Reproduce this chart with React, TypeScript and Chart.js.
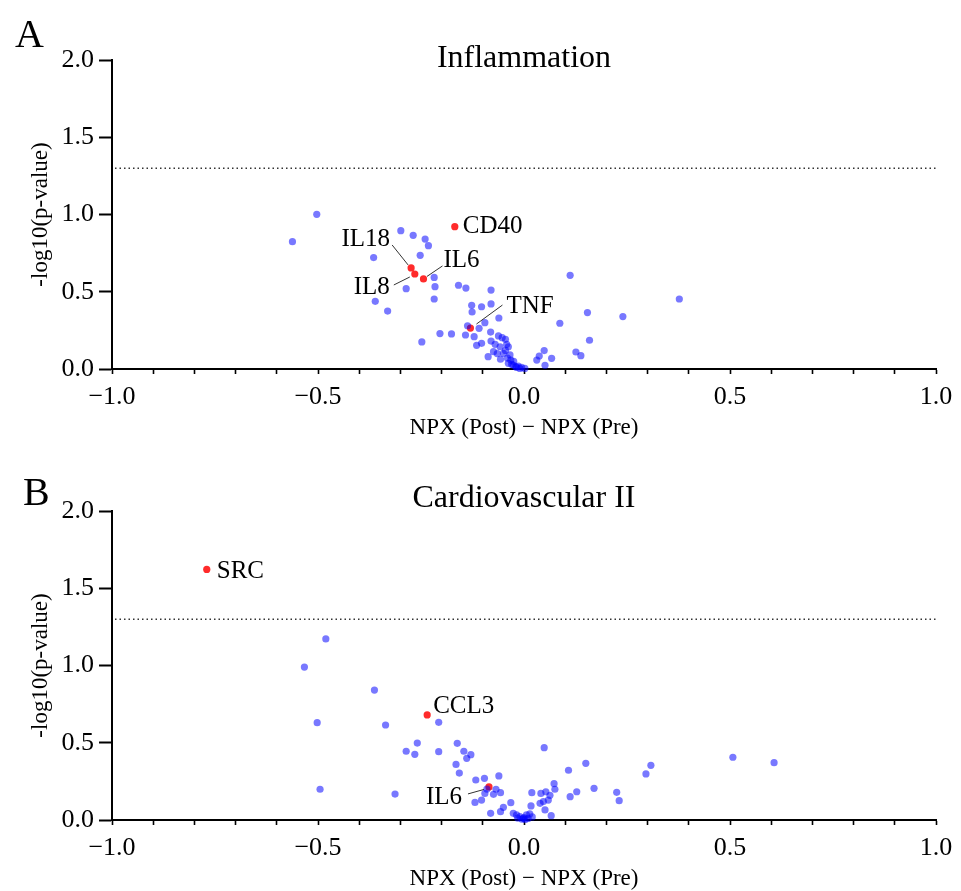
import React, { useEffect, useRef } from "react";
import { Chart, registerables } from "chart.js";

Chart.register(...registerables);

const FONT = "'Liberation Serif', 'Times New Roman', serif";
const MINUS = "\u2212";

// ---------- Panel A: Inflammation ----------
const inflBlueX = [
  -0.503, -0.562, -0.299, -0.269, -0.24, -0.232, -0.365, -0.252, -0.218, -0.216,
  -0.218, -0.286, -0.361, -0.331, -0.159, -0.141, -0.08, -0.127, -0.103, -0.08,
  -0.126, -0.061, -0.248, -0.204, -0.176, -0.142, -0.137, -0.109, -0.121, -0.115,
  -0.103, -0.081, -0.08, -0.062, -0.053, -0.045, -0.074, -0.087, -0.058, -0.038,
  -0.05, -0.034, -0.057, -0.032, -0.038, -0.026, -0.014, -0.006, 0.002, -0.018,
  0.031, 0.037, 0.049, 0.067, 0.051, 0.112, 0.087, 0.154, 0.159, 0.126,
  0.138, 0.24, 0.377, -0.095, -0.07, -0.065, -0.045, -0.025, -0.01, -0.04,
  -0.042, -0.03, -0.02,
];
const inflBlueY = [
  1.001, 0.824, 0.895, 0.865, 0.841, 0.798, 0.721, 0.736, 0.593, 0.533,
  0.453, 0.52, 0.438, 0.375, 0.542, 0.524, 0.511, 0.412, 0.403, 0.421,
  0.369, 0.33, 0.175, 0.229, 0.227, 0.22, 0.28, 0.263, 0.209, 0.153,
  0.166, 0.239, 0.181, 0.214, 0.203, 0.192, 0.112, 0.08, 0.144, 0.144,
  0.101, 0.091, 0.063, 0.058, 0.037, 0.026, 0.019, 0.011, 0.004, 0.011,
  0.058, 0.084, 0.119, 0.069, 0.024, 0.606, 0.296, 0.365, 0.186, 0.11,
  0.086, 0.339, 0.453, 0.3, 0.16, 0.1, 0.12, 0.05, 0.004, 0.07,
  0.16, 0.03, 0.015,
];
const inflHitLabels = ["CD40", "IL18", "IL8", "IL6", "TNF"];
const inflHitX = [-0.168, -0.274, -0.265, -0.244, -0.13];
const inflHitY = [0.921, 0.654, 0.615, 0.583, 0.265];

// ---------- Panel B: Cardiovascular II ----------
const cardBlueX = [
  -0.481, -0.533, -0.363, -0.502, -0.336, -0.207, -0.259, -0.286, -0.265, -0.207,
  -0.162, -0.146, -0.139, -0.129, -0.165, -0.157, -0.495, -0.313, -0.117, -0.096,
  -0.061, -0.119, -0.103, -0.095, -0.074, -0.068, -0.057, -0.081, -0.057, -0.05,
  -0.032, -0.026, -0.018, -0.01, -0.002, 0.006, 0.014, 0.019, 0.017, 0.049,
  0.041, 0.053, 0.063, 0.073, 0.075, 0.039, 0.051, 0.066, 0.047, 0.059,
  0.108, 0.112, 0.128, 0.15, 0.17, 0.225, 0.231, 0.296, 0.308, 0.507,
  0.607, -0.005, 0.003, 0.0, -0.015, 0.01, 0.02, -0.09,
];
const cardBlueY = [
  1.172, 0.99, 0.841, 0.63, 0.615, 0.632, 0.498, 0.445, 0.425, 0.442,
  0.496, 0.445, 0.399, 0.423, 0.36, 0.304, 0.199, 0.168, 0.259, 0.27,
  0.285, 0.114, 0.129, 0.172, 0.166, 0.199, 0.177, 0.043, 0.054, 0.082,
  0.112, 0.043, 0.033, 0.022, 0.011, 0.033, 0.039, 0.177, 0.091, 0.468,
  0.172, 0.183, 0.16, 0.235, 0.199, 0.108, 0.065, 0.028, 0.119, 0.129,
  0.322, 0.151, 0.183, 0.367, 0.205, 0.179, 0.125, 0.298, 0.354, 0.406,
  0.371, 0.005, 0.004, 0.015, 0.012, 0.01, 0.02, 0.2,
];
const cardHitLabels = ["SRC", "CCL3", "IL6"];
const cardHitX = [-0.77, -0.235, -0.085];
const cardHitY = [1.622, 0.68, 0.214];

const xTickValues = [-1.0, -0.5, 0.0, 0.5, 1.0];
const yTickValues = [0.0, 0.5, 1.0, 1.5, 2.0];
const THRESHOLD = 1.3;

// label placement (pixel offsets from the marked point): text anchor + optional leader line
type Ann = { align: CanvasTextAlign; dx: number; dy: number; line?: [number, number, number, number] };
const inflAnn: Ann[] = [
  { align: "left", dx: 8, dy: 0 },
  { align: "right", dx: -21, dy: -29, line: [-19, -23, -3, -3] },
  { align: "right", dx: -25, dy: 13, line: [-21, 11, -5, 3] },
  { align: "left", dx: 20, dy: -18, line: [19, -13, 3.5, -2.5] },
  { align: "left", dx: 36, dy: -22, line: [32, -23, 6, -4] },
];
const cardAnn: Ann[] = [
  { align: "left", dx: 10, dy: 2 },
  { align: "left", dx: 6, dy: -9 },
  { align: "right", dx: -27, dy: 11, line: [-21, 7, -5, 2.5] },
];

function fmt(v: number): string {
  const s = Math.abs(v).toFixed(1);
  return v < -1e-9 ? MINUS + s : s;
}

type PanelProps = {
  top: number;
  letter: string;
  letterX: number;
  letterBase: number;
  title: string;
  titleBase: number;
  bx: number[];
  by: number[];
  hl: string[];
  hx: number[];
  hy: number[];
  ann: Ann[];
};

const W = 961;
const H = 451;

function Panel(p: PanelProps) {
  const ref = useRef<HTMLCanvasElement | null>(null);
  useEffect(() => {
    const canvas = ref.current;
    if (!canvas) return;
    const overlay = {
      id: "overlay",
      beforeDatasetsDraw(chart: any) {
        const { ctx, chartArea } = chart;
        const y = chart.scales.y;
        const py = y.getPixelForValue(THRESHOLD);
        ctx.save();
        ctx.strokeStyle = "#333";
        ctx.lineWidth = 1.5;
        ctx.setLineDash([1.5, 3]);
        ctx.beginPath();
        ctx.moveTo(chartArea.left + 3, py);
        ctx.lineTo(chartArea.right, py);
        ctx.stroke();
        ctx.restore();
      },
      afterDraw(chart: any) {
        const { ctx, chartArea } = chart;
        const x = chart.scales.x;
        const y = chart.scales.y;
        ctx.save();
        ctx.fillStyle = "#000";
        // panel letter
        ctx.font = `40px ${FONT}`;
        ctx.textAlign = "left";
        ctx.textBaseline = "alphabetic";
        ctx.fillText(p.letter, p.letterX, p.letterBase);
        // title
        ctx.font = `32px ${FONT}`;
        ctx.textAlign = "center";
        ctx.fillText(p.title, (chartArea.left + chartArea.right) / 2, p.titleBase);
        // annotations
        ctx.font = `25px ${FONT}`;
        ctx.textBaseline = "middle";
        ctx.strokeStyle = "#333";
        ctx.lineWidth = 1;
        p.hl.forEach((lab, i) => {
          const a = p.ann[i];
          const px = x.getPixelForValue(p.hx[i]);
          const py = y.getPixelForValue(p.hy[i]);
          ctx.textAlign = a.align;
          ctx.fillText(lab, px + a.dx, py + a.dy);
          if (a.line) {
            ctx.beginPath();
            ctx.moveTo(px + a.line[0], py + a.line[1]);
            ctx.lineTo(px + a.line[2], py + a.line[3]);
            ctx.stroke();
          }
        });
        ctx.restore();
      },
    };

    const chart = new Chart(canvas, {
      type: "scatter",
      data: {
        datasets: [
          {
            label: "proteins",
            data: p.bx.map((v, i) => ({ x: v, y: p.by[i] })),
            backgroundColor: "rgba(0,0,255,0.53)",
            borderWidth: 0,
            pointRadius: 3.6,
            pointHoverRadius: 3.6,
            clip: false as any,
          },
          {
            label: "highlighted",
            data: p.hx.map((v, i) => ({ x: v, y: p.hy[i] })),
            backgroundColor: "rgba(255,20,20,0.9)",
            borderWidth: 0,
            pointRadius: 3.6,
            pointHoverRadius: 3.6,
            clip: false as any,
          },
        ],
      },
      options: {
        animation: false,
        responsive: false,
        maintainAspectRatio: false,
        events: [],
        layout: { padding: { top: 60, right: 25, left: 0, bottom: 0 } },
        plugins: {
          legend: { display: false },
          tooltip: { enabled: false },
          title: { display: false },
        },
        scales: {
          x: {
            type: "linear",
            min: -1,
            max: 1,
            afterFit(s: any) {
              s.height = 82;
            },
            ticks: {
              stepSize: 0.1,
              autoSkip: false,
              maxRotation: 0,
              padding: 8,
              color: "#000",
              font: { family: FONT, size: 26 },
              callback: (v: any) => {
                const n = Number(v);
                const hit = xTickValues.find((t) => Math.abs(t - n) < 1e-6);
                return hit === undefined ? "" : fmt(hit);
              },
            },
            grid: {
              drawOnChartArea: false,
              drawTicks: true,
              tickLength: 5,
              tickColor: "#000",
              tickWidth: 1.6,
            },
            border: { display: true, color: "#000", width: 2 },
            title: {
              display: true,
              text: "NPX (Post) " + MINUS + " NPX (Pre)",
              color: "#000",
              font: { family: FONT, size: 23 },
              padding: { top: 0, bottom: 9 },
            },
          },
          y: {
            type: "linear",
            min: 0,
            max: 2,
            afterFit(s: any) {
              s.width = 112;
            },
            ticks: {
              stepSize: 0.5,
              padding: 5,
              color: "#000",
              font: { family: FONT, size: 26 },
              callback: (v: any) => {
                const n = Number(v);
                const hit = yTickValues.find((t) => Math.abs(t - n) < 1e-6);
                return hit === undefined ? "" : hit.toFixed(1);
              },
            },
            grid: {
              drawOnChartArea: false,
              drawTicks: true,
              tickLength: 13,
              tickColor: "#000",
              tickWidth: 2,
            },
            border: { display: true, color: "#000", width: 2 },
            title: {
              display: true,
              text: "-log10(p-value)",
              color: "#000",
              font: { family: FONT, size: 23 },
              padding: { top: 27, bottom: 0 },
            },
          },
        },
      },
      plugins: [overlay],
    } as any);
    return () => chart.destroy();
  }, []);

  return (
    <canvas
      ref={ref}
      width={W}
      height={H}
      style={{ position: "absolute", left: 0, top: p.top, width: W, height: H, display: "block" }}
    />
  );
}

export default function App() {
  return (
    <div
      style={{
        position: "absolute",
        left: 0,
        top: 0,
        width: 961,
        height: 891,
        overflow: "hidden",
        background: "#fff",
      }}
    >
      <Panel
        top={0}
        letter="A"
        letterX={15}
        letterBase={47}
        title="Inflammation"
        titleBase={67}
        bx={inflBlueX}
        by={inflBlueY}
        hl={inflHitLabels}
        hx={inflHitX}
        hy={inflHitY}
        ann={inflAnn}
      />
      <Panel
        top={451}
        letter="B"
        letterX={23}
        letterBase={54}
        title="Cardiovascular II"
        titleBase={56}
        bx={cardBlueX}
        by={cardBlueY}
        hl={cardHitLabels}
        hx={cardHitX}
        hy={cardHitY}
        ann={cardAnn}
      />
    </div>
  );
}
